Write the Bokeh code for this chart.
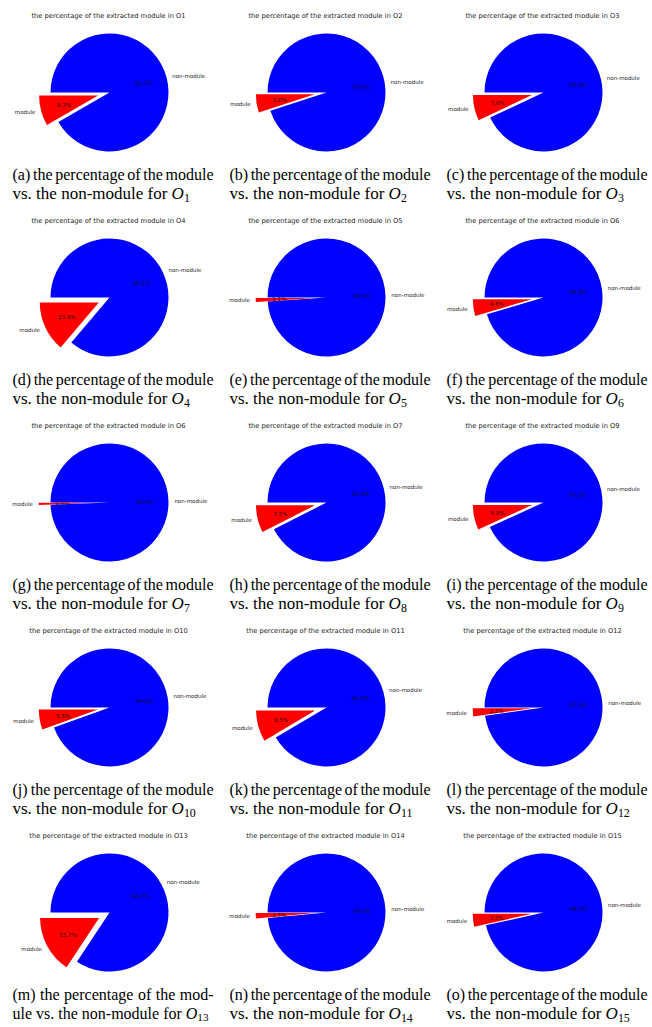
from bokeh.plotting import figure
from bokeh.models import Range1d, ColumnDataSource
from bokeh.embed import file_html
from bokeh.resources import INLINE
from bokeh.core.properties import value
import math

# ---------------- data ----------------
titles = ["O1", "O2", "O3", "O4", "O5", "O6", "O6", "O7", "O9",
          "O10", "O11", "O12", "O13", "O14", "O15"]
module_pct = [8.3, 5.0, 7.0, 13.8, 1.1, 4.6, 0.6, 7.5, 6.8,
              5.5, 8.5, 2.2, 15.7, 1.5, 3.5]
slice_labels = ["module", "non-module"]
letters = list("abcdefghijklmno")
subscripts = [str(i) for i in range(1, 16)]

# ---------------- layout ----------------
W, H = 650, 1025
CELL_W, CELL_H = 217, 205
CX, CY, R = 109, 92, 59
EXPLODE = 0.2
TITLE_Y = 15
CAP1_Y, CAP2_Y = 174, 193
CAP_X = 12
CAP1_W = 201       # justified width of caption line 1
CAP2_MAXW = 196    # max width of caption line 2
FS1, FS2 = 16, 17  # caption font sizes

# Times metrics (per 1000 em) for caption positioning
TW = {"v": 500, "s": 389, ".": 250, " ": 250, "t": 278, "h": 500, "e": 444,
      "n": 500, "o": 500, "-": 333, "m": 778, "d": 500, "u": 500, "l": 278,
      "f": 333, "r": 333, "(": 333, ")": 333, "p": 500, "c": 444, "a": 444,
      "g": 500, "b": 500, "i": 278, "j": 278, "k": 500}

def tem(s):
    return sum(TW.get(c, 500) for c in s) / 1000.0

p = figure(width=W, height=H, x_range=Range1d(0, W), y_range=Range1d(-H, 0),
           output_backend="svg", toolbar_location=None, min_border=0,
           x_axis_type=None, y_axis_type=None)
p.grid.visible = False
p.outline_line_color = None
p.background_fill_color = "white"

wx, wy, ws, we, wc = [], [], [], [], []
tx, ty, tt = [], [], []
lx, ly, lt, la = [], [], [], []
px_, py_, pt = [], [], []
w1x, w1y, w1t = [], [], []
c2 = dict(x=[], y=[], t=[], fs=[])
oo = dict(x=[], y=[], t=[], fs=[])
ss = dict(x=[], y=[], t=[], fs=[])

for i, pct in enumerate(module_pct):
    row, col = divmod(i, 3)
    cx = col * CELL_W + CX
    cy = -(row * CELL_H + CY)
    theta = pct * 3.6
    b = math.radians(180 + theta / 2)
    ecx = cx + EXPLODE * R * math.cos(b)
    ecy = cy + EXPLODE * R * math.sin(b)
    # module wedge (exploded)
    wx.append(ecx); wy.append(ecy)
    ws.append(math.radians(180)); we.append(math.radians(180 + theta)); wc.append("#ff0000")
    # non-module wedge
    wx.append(cx); wy.append(cy)
    ws.append(math.radians(180 + theta)); we.append(math.radians(540)); wc.append("#0000ff")
    # title
    tx.append(col * CELL_W + 108); ty.append(-(row * CELL_H + TITLE_Y))
    tt.append("the percentage of the extracted module in " + titles[i])
    # slice labels
    lx.append(ecx + 1.1 * R * math.cos(b)); ly.append(ecy + 1.1 * R * math.sin(b))
    lt.append(slice_labels[0]); la.append("right")
    b2 = math.radians(theta / 2)
    lx.append(cx + 1.1 * R * math.cos(b2)); ly.append(cy + 1.1 * R * math.sin(b2))
    lt.append(slice_labels[1]); la.append("left")
    # pct labels
    px_.append(ecx + 0.6 * R * math.cos(b)); py_.append(ecy + 0.6 * R * math.sin(b))
    pt.append(f"{pct:.1f}%")
    px_.append(cx + 0.6 * R * math.cos(b2)); py_.append(cy + 0.6 * R * math.sin(b2))
    pt.append(f"{100 - pct:.1f}%")
    # captions
    x0 = col * CELL_W + CAP_X
    if letters[i] == "m":
        l1 = "(m) the percentage of the mod-"
        l2 = "ule vs. the non-module for "
    else:
        l1 = f"({letters[i]}) the percentage of the module"
        l2 = "vs. the non-module for "
    words = l1.split(" ")
    ww = [tem(w) * FS1 for w in words]
    gap = (CAP1_W - sum(ww)) / (len(words) - 1)
    xx = x0
    for w, wdt in zip(words, ww):
        w1x.append(xx); w1y.append(-(row * CELL_H + CAP1_Y)); w1t.append(w)
        xx += wdt + gap
    total_em = tem(l2) + 0.722 + 0.35 * len(subscripts[i])
    fs2 = min(FS2, CAP2_MAXW / total_em)
    c2["x"].append(x0); c2["y"].append(-(row * CELL_H + CAP2_Y)); c2["t"].append(l2)
    c2["fs"].append(f"{fs2:.1f}px")
    oxx = x0 + tem(l2) * fs2
    oo["x"].append(oxx); oo["y"].append(-(row * CELL_H + CAP2_Y)); oo["t"].append("O")
    oo["fs"].append(f"{fs2:.1f}px")
    ss["x"].append(oxx + 0.722 * fs2); ss["y"].append(-(row * CELL_H + CAP2_Y + 4))
    ss["t"].append(subscripts[i]); ss["fs"].append(f"{fs2 * 0.7:.1f}px")

p.wedge(x="x", y="y", radius=R, start_angle="s", end_angle="e", direction="anticlock",
        fill_color="c", line_color=None,
        source=ColumnDataSource(dict(x=wx, y=wy, s=ws, e=we, c=wc)))

p.text(x=tx, y=ty, text=tt, text_font=value("DejaVu Sans"), text_font_size="6.7px",
       text_align="center", text_baseline="middle", text_color="#222222")
p.text(x="x", y="y", text="t", text_align="a", source=ColumnDataSource(dict(x=lx, y=ly, t=lt, a=la)),
       text_font=value("DejaVu Sans"), text_font_size="5.5px", text_baseline="middle",
       text_color="#222222")
p.text(x=px_, y=py_, text=pt, text_font=value("DejaVu Sans"), text_font_size="5.5px",
       text_align="center", text_baseline="middle", text_color="#111111")

p.text(x=w1x, y=w1y, text=w1t, text_font=value("Liberation Serif"), text_font_size=f"{FS1}px",
       text_align="left", text_baseline="middle", text_color="black")
p.text(x="x", y="y", text="t", source=ColumnDataSource(c2), text_font=value("Liberation Serif"),
       text_font_size="fs", text_align="left", text_baseline="middle", text_color="black")
p.text(x="x", y="y", text="t", source=ColumnDataSource(oo), text_font=value("Liberation Serif"),
       text_font_size="fs", text_font_style="italic", text_align="left", text_baseline="middle",
       text_color="black")
p.text(x="x", y="y", text="t", source=ColumnDataSource(ss), text_font=value("Liberation Serif"),
       text_font_size="fs", text_align="left", text_baseline="middle", text_color="black")

open("out.html", "w").write(file_html(p, INLINE))
